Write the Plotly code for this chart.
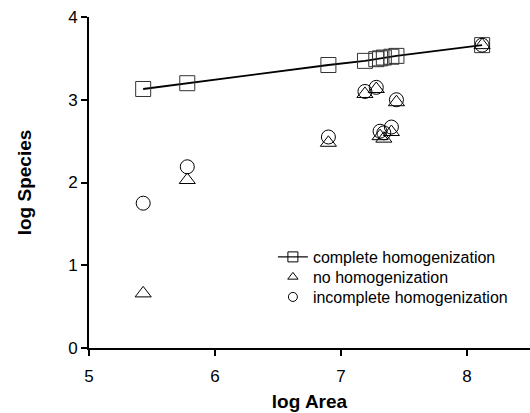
import plotly.graph_objects as go

log_area = [5.43, 5.78, 6.90, 7.19, 7.28, 7.31, 7.34, 7.40, 7.44, 8.12]
complete = [3.13, 3.20, 3.42, 3.47, 3.49, 3.50, 3.51, 3.52, 3.53, 3.66]
no_homog = [0.66, 2.03, 2.48, 3.07, 3.13, 2.56, 2.53, 2.61, 2.97, 3.66]
incomplete = [1.75, 2.19, 2.55, 3.10, 3.15, 2.62, 2.60, 2.67, 3.00, 3.66]

series_names = ["complete homogenization", "no homogenization", "incomplete homogenization"]
x_ticks = [5, 6, 7, 8]
y_ticks = [0, 1, 2, 3, 4]

FONT = "Arial, Liberation Sans, sans-serif"

fig = go.Figure()
# data traces (not shown in legend)
fig.add_trace(go.Scatter(
    x=log_area, y=complete, mode="lines+markers", showlegend=False,
    line=dict(color="black", width=1.8),
    marker=dict(symbol="square-open", size=15, color="#333", line=dict(width=1)),
))
fig.add_trace(go.Scatter(
    x=log_area, y=no_homog, mode="markers", showlegend=False,
    marker=dict(symbol="triangle-up-open", size=14, color="black", line=dict(width=1)),
))
fig.add_trace(go.Scatter(
    x=log_area, y=incomplete, mode="markers", showlegend=False,
    marker=dict(symbol="circle-open", size=14, color="black", line=dict(width=1)),
))
# legend entries with smaller symbols, as in the reference (one legend per row for tight spacing)
fig.add_trace(go.Scatter(
    x=[None], y=[None], mode="lines+markers", name=series_names[0], legend="legend",
    line=dict(color="black", width=1.2),
    marker=dict(symbol="square-open", size=10, color="black", line=dict(width=1)),
))
fig.add_trace(go.Scatter(
    x=[None], y=[None], mode="markers", name=series_names[1], legend="legend2",
    marker=dict(symbol="triangle-up-open", size=9, color="black", line=dict(width=1)),
))
fig.add_trace(go.Scatter(
    x=[None], y=[None], mode="markers", name=series_names[2], legend="legend3",
    marker=dict(symbol="circle-open", size=9, color="black", line=dict(width=1)),
))

axis_common = dict(
    showline=True, linecolor="black", linewidth=2, mirror=False,
    ticks="outside", ticklen=6, tickwidth=2, tickcolor="black",
    showgrid=False, zeroline=False,
    tickfont=dict(family=FONT, size=17, color="black"),
)
leg_common = dict(x=0.417, xanchor="left", yanchor="middle",
                  font=dict(family=FONT, size=16, color="black"),
                  bgcolor="rgba(0,0,0,0)", borderwidth=0)
fig.update_layout(
    width=530, height=413,
    margin=dict(l=89, r=0, t=17, b=65),
    plot_bgcolor="white", paper_bgcolor="white",
    xaxis=dict(range=[5, 8.5], tickvals=x_ticks, ticklabelstandoff=6,
               title=dict(text="<b>log Area</b>", font=dict(family=FONT, size=19, color="black"), standoff=9),
               **axis_common),
    yaxis=dict(range=[0, 4], tickvals=y_ticks,
               title=dict(text="<b>log Species</b>", font=dict(family=FONT, size=19, color="black"), standoff=31),
               **axis_common),
    legend=dict(y=0.275, **leg_common),
    legend2=dict(y=0.2145, **leg_common),
    legend3=dict(y=0.154, **leg_common),
    showlegend=True,
)
fig.write_html("out.html")
